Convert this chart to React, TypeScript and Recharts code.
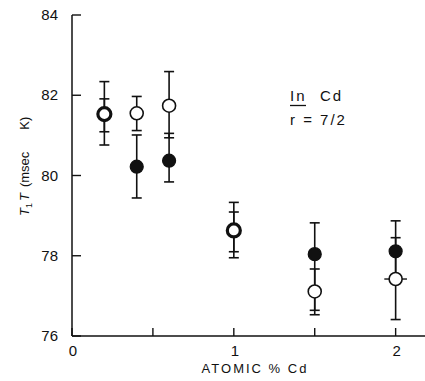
import React from 'react';
import { ScatterChart, Scatter, XAxis, YAxis, ErrorBar } from 'recharts';

// points where the open and filled symbols coincide (drawn as a heavy ring)
const boldX = [0.2, 1.0];
const boldY = [81.53, 78.63];
const boldOuterLow = [0.77, 0.68];
const boldOuterHigh = [0.81, 0.7];
const boldInnerLow = [0.44, 0.53];
const boldInnerHigh = [0.38, 0.46];

const filledX = [0.4, 0.6, 1.5, 2.0];
const filledY = [80.22, 80.37, 78.04, 78.11];
const filledLow = [0.78, 0.53, 1.4, 0.76];
const filledHigh = [0.79, 0.68, 0.78, 0.76];

const openX = [0.4, 0.6, 1.5, 2.0];
const openY = [81.55, 81.74, 77.11, 77.42];
const openLow = [0.43, 0.8, 0.58, 1.01];
const openHigh = [0.42, 0.85, 0.56, 1.03];
const openXErr = [0, 0, 0, 0.07];

const xTicks = [0, 0.5, 1, 1.5, 2];
const xTopTicks = [0.5, 1, 1.5, 2];
const yTicks = [76, 78, 80, 82, 84];

const INK = '#111';
const FONT = '"Liberation Sans", Arial, sans-serif';

const boldData = boldX.map((x, i) => ({
  x,
  y: boldY[i],
  outer: [boldOuterLow[i], boldOuterHigh[i]],
  inner: [boldInnerLow[i], boldInnerHigh[i]],
}));
const filledData = filledX.map((x, i) => ({ x, y: filledY[i], err: [filledLow[i], filledHigh[i]] }));
const openData = openX.map((x, i) => ({
  x,
  y: openY[i],
  err: [openLow[i], openHigh[i]],
  xErr: openXErr[i],
}));

const BottomTick = (props: any) => {
  const { x, y, payload } = props;
  const v = payload.value;
  return (
    <g>
      <line x1={x} x2={x} y1={y} y2={y - 8} stroke={INK} strokeWidth={1.4} />
      {Number.isInteger(v) && (
        <text x={x + 1} y={y + 20} textAnchor="middle" fontSize={15} fontFamily={FONT} fill={INK}>
          {v}
        </text>
      )}
    </g>
  );
};

const TopTick = (props: any) => {
  const { x, y } = props;
  return <line x1={x} x2={x} y1={y} y2={y + 10} stroke={INK} strokeWidth={1.4} />;
};

const LeftTick = (props: any) => {
  const { x, y, payload } = props;
  return (
    <g>
      <line x1={x} x2={x + 9} y1={y} y2={y} stroke={INK} strokeWidth={1.4} />
      <text x={x - 14} y={y + 5} textAnchor="end" fontSize={15} fontFamily={FONT} fill={INK}>
        {payload.value}
      </text>
    </g>
  );
};

const ring = (sw: number, fill: string) => (p: any) => (
  <circle cx={p.cx} cy={p.cy} r={6.5} fill={fill} stroke={INK} strokeWidth={sw} />
);

const yLabel = () => (
  <text transform="translate(29,216) rotate(-90)" fontSize={13} fontFamily={FONT} fill={INK}>
    <tspan fontStyle="italic">T</tspan>
    <tspan fontSize={9} dy={3}>1</tspan>
    <tspan fontStyle="italic" dy={-3} dx={2}>T</tspan>
    <tspan dx={6}>(msec</tspan>
    <tspan dx={22}>K)</tspan>
  </text>
);

const xLabel = () => (
  <text x={255} y={373} textAnchor="middle" fontSize={13} letterSpacing={2} fontFamily={FONT} fill={INK}>
    ATOMIC % Cd
  </text>
);

export default function App() {
  return (
    <div style={{ position: 'fixed', left: 0, top: 0, width: 425, height: 381, overflow: 'hidden', background: '#fff' }}>
      <ScatterChart width={430} height={381} margin={{ top: 15, right: 2, bottom: 0, left: 0 }}>
        <XAxis
          type="number"
          dataKey="x"
          domain={[0, 2.2]}
          ticks={xTicks}
          allowDataOverflow
          height={45}
          tickSize={0}
          tickMargin={0}
          tickLine={false}
          tick={BottomTick}
          axisLine={{ stroke: INK, strokeWidth: 1.5 }}
          label={xLabel}
        />
        <XAxis
          xAxisId="top"
          orientation="top"
          type="number"
          dataKey="x"
          domain={[0, 2.2]}
          ticks={xTopTicks}
          allowDataOverflow
          height={0}
          tickSize={0}
          tickMargin={0}
          tickLine={false}
          tick={TopTick}
          axisLine={{ stroke: INK, strokeWidth: 1.5 }}
        />
        <YAxis
          type="number"
          dataKey="y"
          domain={[76, 84]}
          ticks={yTicks}
          allowDataOverflow
          width={72}
          tickSize={0}
          tickMargin={0}
          tickLine={false}
          tick={LeftTick}
          axisLine={{ stroke: INK, strokeWidth: 1.5 }}
          label={yLabel}
        />
        <Scatter data={filledData} shape={ring(1.2, INK)} isAnimationActive={false}>
          <ErrorBar dataKey="err" direction="y" width={5} stroke={INK} strokeWidth={1.6} />
        </Scatter>
        <Scatter data={openData} shape={ring(1.6, '#fff')} isAnimationActive={false}>
          <ErrorBar dataKey="err" direction="y" width={5} stroke={INK} strokeWidth={1.6} />
          <ErrorBar dataKey="xErr" direction="x" width={0} stroke={INK} strokeWidth={1.4} />
        </Scatter>
        <Scatter data={boldData} shape={ring(3.2, '#fff')} isAnimationActive={false}>
          <ErrorBar dataKey="outer" direction="y" width={5} stroke={INK} strokeWidth={1.6} />
          <ErrorBar dataKey="inner" direction="y" width={5} stroke={INK} strokeWidth={1.6} />
        </Scatter>
      </ScatterChart>
      <svg width={425} height={381} style={{ position: 'absolute', left: 0, top: 0, pointerEvents: 'none' }}>
        <g fontFamily={FONT} fontSize={15} fill={INK} letterSpacing={2}>
          <text x={290} y={101}>In</text>
          <line x1={290} x2={306} y1={105.5} y2={105.5} stroke={INK} strokeWidth={1.3} />
          <text x={320} y={101}>Cd</text>
          <text x={290} y={125}>r = 7/2</text>
        </g>
      </svg>
    </div>
  );
}
